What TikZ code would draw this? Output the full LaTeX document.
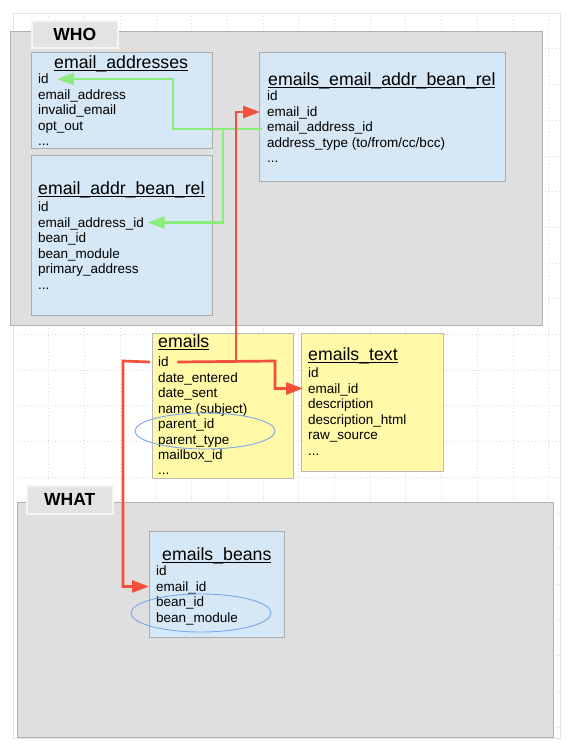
\documentclass[tikz,border=0pt]{standalone}
\usepackage{fontspec}
\setmainfont{Liberation Sans}
\usetikzlibrary{arrows.meta,shapes.geometric}

\definecolor{boxblue}{RGB}{214,231,245}
\definecolor{boxyellow}{RGB}{255,249,168}
\definecolor{zonegray}{RGB}{223,223,223}
\definecolor{tabgray}{RGB}{227,227,227}
\definecolor{linkred}{RGB}{242,80,58}
\definecolor{linkgreen}{RGB}{138,236,122}
\definecolor{ringblue}{RGB}{122,166,238}

\newcommand{\rowfont}{\fontsize{13.5pt}{15.6pt}\selectfont}
\newcommand{\titlefont}{\fontsize{17.7pt}{20pt}\selectfont}
\newcommand{\tabfont}{\bfseries\fontsize{17.5pt}{20pt}\selectfont}
\newsavebox{\titlebox}
\newcommand{\tbltitle}[1]{\sbox{\titlebox}{#1}\rlap{\rule[-2.8pt]{\wd\titlebox}{1.1pt}}\usebox{\titlebox}}

\begin{document}
\begin{tikzpicture}[
    x=1pt, y=-1pt,
    zone/.style={draw=gray!60, fill=zonegray, line width=1pt, anchor=north west, inner sep=0pt},
    tab/.style={draw=gray!8, fill=tabgray, line width=1.5pt, anchor=north west, inner sep=0pt, font=\tabfont},
    bluetable/.style={draw=gray!65, fill=boxblue, line width=0.8pt, anchor=north west, inner sep=0pt},
    yellowtable/.style={draw=gray!55, fill=boxyellow, line width=0.8pt, anchor=north west, inner sep=0pt},
    title/.style={font=\titlefont, anchor=base west, inner sep=0pt},
    row/.style={font=\rowfont, anchor=base west, inner sep=0pt, text height=9pt, text depth=0pt},
    link/.style={line width=2.7pt, -{Triangle[length=17pt,width=12pt]}},
    ring/.style={ellipse, draw=ringblue, line width=0.9pt, inner sep=0pt},
    pageline/.style={draw=gray!22, line width=1pt},
    gridline/.style={draw=gray!28, line width=0.6pt, dash pattern=on 1pt off 2.5pt}
]
    \useasboundingbox (0,0) rectangle (574,750);
    \fill[white] (0,0) rectangle (574,750);
    \draw[gridline, shift={(13,13)}] (0,0) grid[step=35.7pt] (547,725);
    \draw[pageline] (13,13) rectangle (560,738);

    \node[zone, minimum width=532.5pt, minimum height=294pt] (who) at (9.5,31) {};
    \node[tab, minimum width=86pt, minimum height=27pt] (whoTab) at (31,20) {WHO};
    \node[zone, minimum width=536pt, minimum height=235pt] (what) at (17,502) {};
    \node[tab, minimum width=86pt, minimum height=28pt] (whatTab) at (26,485) {WHAT};

    \node[bluetable, minimum width=181pt, minimum height=96pt] (ea) at (31,52) {};
    \node[title] (eaTitle) at (54,68) {\tbltitle{email\_addresses}};
    \node[row] (eaId) at (38,83.5) {id};
    \node[row] (eaAddr) at (38,99.1) {email\_address};
    \node[row] (eaInvalid) at (38,114.7) {invalid\_email};
    \node[row] (eaOpt) at (38,130.3) {opt\_out};
    \node[row] (eaMore) at (38,145.9) {...};

    \node[bluetable, minimum width=181pt, minimum height=160pt] (eabr) at (31,155) {};
    \node[title] (eabrTitle) at (38,194.5) {\tbltitle{email\_addr\_bean\_rel}};
    \node[row] (eabrId) at (38,211.5) {id};
    \node[row] (eabrAddr) at (38,227) {email\_address\_id};
    \node[row] (eabrBean) at (38,242.6) {bean\_id};
    \node[row] (eabrModule) at (38,258.2) {bean\_module};
    \node[row] (eabrPrimary) at (38,273.8) {primary\_address};
    \node[row] (eabrMore) at (38,289.4) {...};

    \node[bluetable, minimum width=246pt, minimum height=129pt] (eeabr) at (259,52) {};
    \node[title] (eeabrTitle) at (268,85) {\tbltitle{emails\_email\_addr\_bean\_rel}};
    \node[row] (eeabrId) at (267,100.5) {id};
    \node[row] (eeabrEmail) at (267,116.5) {email\_id};
    \node[row] (eeabrAddr) at (267,131.6) {email\_address\_id};
    \node[row] (eeabrType) at (267,147.2) {address\_type (to/from/cc/bcc)};
    \node[row] (eeabrMore) at (267,162.8) {...};

    \node[yellowtable, minimum width=141pt, minimum height=145pt] (em) at (152,333) {};
    \node[title] (emTitle) at (158,347) {\tbltitle{emails}};
    \node[row] (emId) at (158,366.5) {id};
    \node[row] (emEntered) at (158,382) {date\_entered};
    \node[row] (emSent) at (158,397.6) {date\_sent};
    \node[row] (emName) at (158,413.2) {name (subject)};
    \node[row] (emParent) at (158,428.8) {parent\_id};
    \node[row] (emParentType) at (158,444.4) {parent\_type};
    \node[row] (emMailbox) at (158,459.8) {mailbox\_id};
    \node[row] (emMore) at (158,474.5) {...};

    \node[yellowtable, minimum width=142pt, minimum height=138pt] (et) at (301,333) {};
    \node[title] (etTitle) at (308,360) {\tbltitle{emails\_text}};
    \node[row] (etId) at (308,377.5) {id};
    \node[row] (etEmail) at (308,393) {email\_id};
    \node[row] (etDesc) at (308,408.6) {description};
    \node[row] (etHtml) at (308,424.2) {description\_html};
    \node[row] (etRaw) at (308,439.8) {raw\_source};
    \node[row] (etMore) at (308,455.4) {...};

    \node[bluetable, minimum width=135pt, minimum height=106pt] (eb) at (149,531) {};
    \node[title] (ebTitle) at (162,560) {\tbltitle{emails\_beans}};
    \node[row] (ebId) at (156,575) {id};
    \node[row] (ebEmail) at (156,591) {email\_id};
    \node[row] (ebBean) at (156,606.5) {bean\_id};
    \node[row] (ebModule) at (156,622) {bean\_module};

    \coordinate (greenTurn) at (173,79);
    \coordinate (greenFork) at (223,130);
    \coordinate (redFork) at (236,361);
    \coordinate (redTurn) at (275,361);
    \coordinate (redLeft) at (123,361);

    \draw[link, linkgreen] ([shift={(-5pt,-2pt)}]eeabrAddr.west) -| (greenTurn) -- ([xshift=8pt]eaId.east);
    \draw[link, linkgreen] (greenFork) |- ([xshift=3.5pt]eabrAddr.east);
    \draw[link, linkred] ([xshift=8.5pt]emId.east) -- (redTurn) |- ([xshift=-5pt]etEmail.west);
    \draw[link, linkred] (redFork) |- ([xshift=-7pt]eeabrEmail.west);
    \draw[link, linkred] ([xshift=-8pt]emId.west) -- (redLeft) |- ([xshift=-7pt]ebEmail.west);

    \node[ring, minimum width=140pt, minimum height=36pt] (parentRing) at (205,431) {};
    \node[ring, minimum width=140pt, minimum height=38pt] (beanRing) at (201,613) {};
\end{tikzpicture}
\end{document}
